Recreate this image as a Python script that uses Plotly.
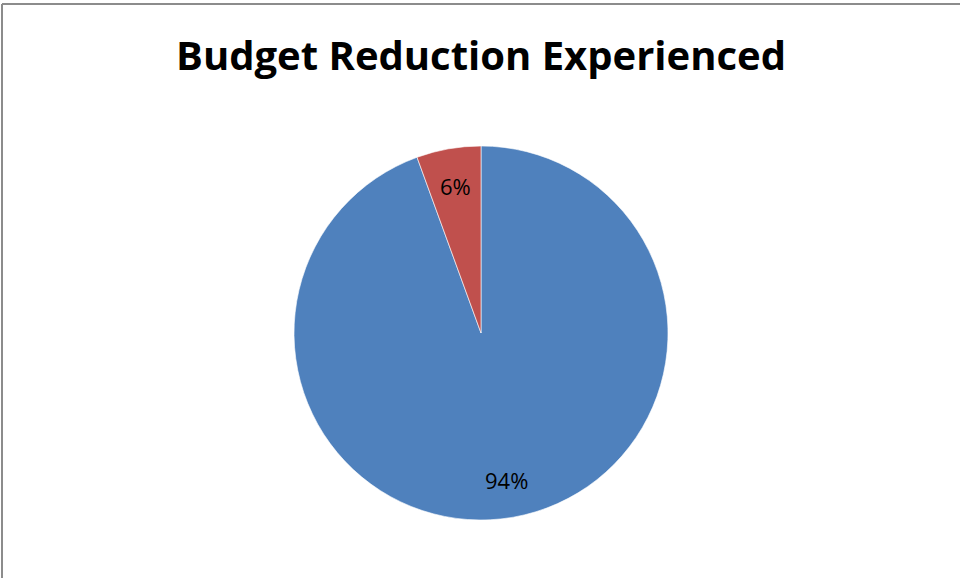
import math
import plotly.graph_objects as go

labels = ["Budget reduction", "No budget reduction"]
values = [17, 1]
colors = ["#4F81BD", "#C0504D"]

W, H = 960, 578

# pie placement in pixels (centre and radius), converted to paper domain
cx, cy, r = 481, 333, 187
dom_x = [(cx - r) / W, (cx + r) / W]
dom_y = [(H - cy - r) / H, (H - cy + r) / H]

fig = go.Figure(
    go.Pie(
        labels=labels,
        values=values,
        sort=False,
        direction="clockwise",
        rotation=0,
        marker=dict(colors=colors, line=dict(color="white", width=0.6)),
        textinfo="none",
        domain=dict(x=dom_x, y=dom_y),
        showlegend=False,
        hoverinfo="label+percent",
    )
)

# percentage labels placed along each slice's bisector, like Excel does
total = sum(values)
start = 0.0
annotations = []
for v in values:
    mid = (start + v / 2) / total * 2 * math.pi
    start += v
    px_ = cx + 0.8 * r * math.sin(mid)
    py_ = cy - 0.8 * r * math.cos(mid)
    annotations.append(dict(
        x=px_ / W, y=1 - py_ / H, xref="paper", yref="paper",
        xanchor="center", yanchor="middle",
        text=f"{v / total:.0%}", showarrow=False,
        font=dict(family="'Open Sans', sans-serif", size=22, color="black"),
    ))

fig.update_layout(
    width=W,
    height=H,
    margin=dict(l=0, r=0, t=0, b=0),
    paper_bgcolor="white",
    plot_bgcolor="white",
    title=dict(
        text="<b>Budget Reduction Experienced</b>",
        x=481 / W,
        xanchor="center",
        y=1 - 56 / H,
        yanchor="middle",
        font=dict(family="'Open Sans', sans-serif", size=40, color="black"),
    ),
    annotations=annotations,
    shapes=[
        dict(type="line", xref="paper", yref="paper", x0=2 / W, x1=1, y0=1 - 4 / H, y1=1 - 4 / H,
             line=dict(color="#8C8C8C", width=2)),
        dict(type="line", xref="paper", yref="paper", x0=2 / W, x1=2 / W, y0=0, y1=1 - 4 / H,
             line=dict(color="#8C8C8C", width=2)),
    ],
)

fig.write_html(
    "out.html",
    config={"displayModeBar": False},
    post_script="document.body.style.margin='0';document.body.style.overflow='hidden';",
)
